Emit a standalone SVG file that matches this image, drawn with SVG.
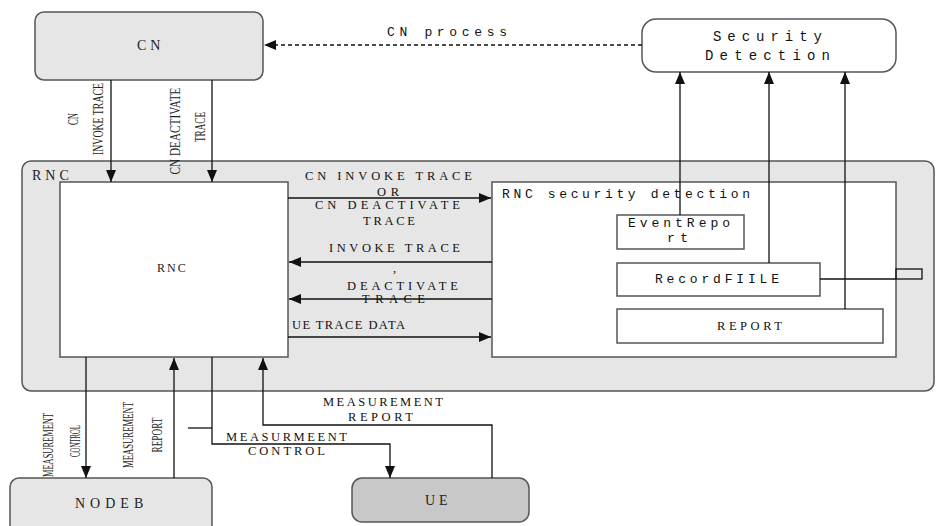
<svg xmlns="http://www.w3.org/2000/svg" width="936" height="526" viewBox="0 0 936 526">
<style>
.box{stroke:#555;stroke-width:1.5}
.g{fill:#e6e6e6}
.w{fill:#fff}
.c{stroke:#111;stroke-width:1.3;fill:none}
.d{stroke-dasharray:4 3}
.m{font-family:"Liberation Serif",serif;font-size:12.5px;fill:#111}
.t{font-family:"Liberation Mono",monospace;font-size:13px;fill:#111}
.s{font-family:"Liberation Serif",serif;font-size:14px;letter-spacing:4px;fill:#222}
.v{font-family:"Liberation Serif",serif;font-size:14px;fill:#222;text-anchor:middle}
</style>
<defs>
<marker id="ah" markerWidth="12" markerHeight="10" refX="12" refY="5" orient="auto" markerUnits="userSpaceOnUse">
<path d="M0,0 L12,5 L0,10 Z" fill="#111"/>
</marker>
</defs>
<rect width="936" height="526" fill="#fff"/>

<g id="rnc-container">
<rect class="box g" x="22" y="161" width="912" height="230" rx="9"/>
<text class="s" x="32" y="180">RNC</text>
</g>

<g id="cn">
<rect class="box g" x="35" y="12" width="228" height="68" rx="9"/>
<text class="s" x="137" y="50">CN</text>
</g>

<g id="security-detection">
<rect class="box w" x="642" y="19" width="254" height="53" rx="14"/>
<text class="t" x="713" y="41" style="font-size:14px" textLength="109" lengthAdjust="spacing">Security</text>
<text class="t" x="705" y="60" style="font-size:14px" textLength="125" lengthAdjust="spacing">Detection</text>
</g>

<g id="rnc">
<rect class="box w" x="60" y="182" width="228" height="175"/>
<text class="s" x="157" y="272" style="font-size:12px;letter-spacing:2px">RNC</text>
</g>

<g id="rnc-security-detection">
<rect class="box w" x="492" y="182" width="404" height="175"/>
<text class="t" x="502" y="198" textLength="248" lengthAdjust="spacing">RNC security detection</text>
</g>

<g id="eventreport">
<rect class="box w" x="617" y="215" width="127" height="34"/>
<text class="t" x="628" y="227" textLength="102" lengthAdjust="spacing">EventRepo</text>
<text class="t" x="667" y="242" textLength="21" lengthAdjust="spacing">rt</text>
</g>

<g id="recordfiile">
<rect class="box w" x="617" y="263" width="203" height="33"/>
<text class="t" x="655" y="283" textLength="124" lengthAdjust="spacing">RecordFIILE</text>
</g>

<g id="report">
<rect class="box w" x="617" y="309" width="266" height="34"/>
<text class="m" x="717" y="330" textLength="65" lengthAdjust="spacing">REPORT</text>
</g>

<g id="nodeb">
<rect class="box g" x="10" y="478" width="202" height="62" rx="9"/>
<text class="s" x="75" y="508" style="letter-spacing:5px">NODEB</text>
</g>

<g id="ue">
<rect class="box" fill="#c8c8c8" x="352" y="478" width="177" height="44" rx="10"/>
<text class="s" x="425" y="505">UE</text>
</g>

<g id="connectors">
<line class="c d" x1="642" y1="45" x2="264" y2="45" marker-end="url(#ah)"/>
<line class="c" x1="111" y1="80" x2="111" y2="182" marker-end="url(#ah)"/>
<line class="c" x1="212" y1="80" x2="212" y2="182" marker-end="url(#ah)"/>
<line class="c" x1="288" y1="198" x2="491" y2="198" marker-end="url(#ah)"/>
<line class="c" x1="492" y1="262" x2="289" y2="262" marker-end="url(#ah)"/>
<line class="c" x1="492" y1="299" x2="289" y2="299" marker-end="url(#ah)"/>
<line class="c" x1="288" y1="337" x2="491" y2="337" marker-end="url(#ah)"/>
<line class="c" x1="680" y1="215" x2="680" y2="72" marker-end="url(#ah)"/>
<line class="c" x1="769" y1="263" x2="769" y2="72" marker-end="url(#ah)"/>
<line class="c" x1="845" y1="309" x2="845" y2="72" marker-end="url(#ah)"/>
<line class="c" x1="820" y1="279" x2="896" y2="279"/>
<rect class="c" x="896" y="269" width="26" height="10"/>
<line class="c" x1="86" y1="357" x2="86" y2="478" marker-end="url(#ah)"/>
<line class="c" x1="174" y1="478" x2="174" y2="358" marker-end="url(#ah)"/>
<polyline class="c" points="212,357 212,444 390,444 390,478" marker-end="url(#ah)"/>
<polyline class="c" points="492,478 492,425 263,425 263,358" marker-end="url(#ah)"/>
<line class="c" x1="188" y1="428" x2="212" y2="428"/>
</g>

<g id="labels">
<text class="t" x="387" y="36" textLength="120" lengthAdjust="spacing">CN process</text>
<text class="v" transform="translate(78,119) rotate(-90)" textLength="12" lengthAdjust="spacingAndGlyphs">CN</text>
<text class="v" transform="translate(103,119) rotate(-90)" textLength="72" lengthAdjust="spacingAndGlyphs">INVOKE TRACE</text>
<text class="v" transform="translate(180,131) rotate(-90)" textLength="87" lengthAdjust="spacingAndGlyphs">CN DEACTIVATE</text>
<text class="v" transform="translate(205,127) rotate(-90)" textLength="30" lengthAdjust="spacingAndGlyphs">TRACE</text>
<text class="m" x="305" y="180" textLength="167" lengthAdjust="spacing">CN INVOKE TRACE</text>
<text class="m" x="377" y="196" textLength="22" lengthAdjust="spacing">OR</text>
<text class="m" x="315" y="209" textLength="145" lengthAdjust="spacing">CN DEACTIVATE</text>
<text class="m" x="363" y="225" textLength="52" lengthAdjust="spacing">TRACE</text>
<text class="m" x="329" y="252" textLength="131" lengthAdjust="spacing">INVOKE TRACE</text>
<text class="m" x="393" y="272">,</text>
<text class="m" x="347" y="290" textLength="111" lengthAdjust="spacing">DEACTIVATE</text>
<text class="m" x="362" y="303" textLength="63" lengthAdjust="spacing">TRACE</text>
<text class="m" x="292" y="329" textLength="113" lengthAdjust="spacing">UE TRACE DATA</text>
<text class="m" x="323" y="406" textLength="120" lengthAdjust="spacing">MEASUREMENT</text>
<text class="m" x="348" y="421" textLength="65" lengthAdjust="spacing">REPORT</text>
<text class="m" x="226" y="441" textLength="121" lengthAdjust="spacing">MEASURMEENT</text>
<text class="m" x="248" y="455" textLength="77" lengthAdjust="spacing">CONTROL</text>
<text class="v" transform="translate(53,445) rotate(-90)" textLength="64" lengthAdjust="spacingAndGlyphs">MEASUREMENT</text>
<text class="v" transform="translate(80,441) rotate(-90)" textLength="32" lengthAdjust="spacingAndGlyphs">CONTROL</text>
<text class="v" transform="translate(133,435) rotate(-90)" textLength="66" lengthAdjust="spacingAndGlyphs">MEASUREMENT</text>
<text class="v" transform="translate(162,435) rotate(-90)" textLength="35" lengthAdjust="spacingAndGlyphs">REPORT</text>
</g>
</svg>
